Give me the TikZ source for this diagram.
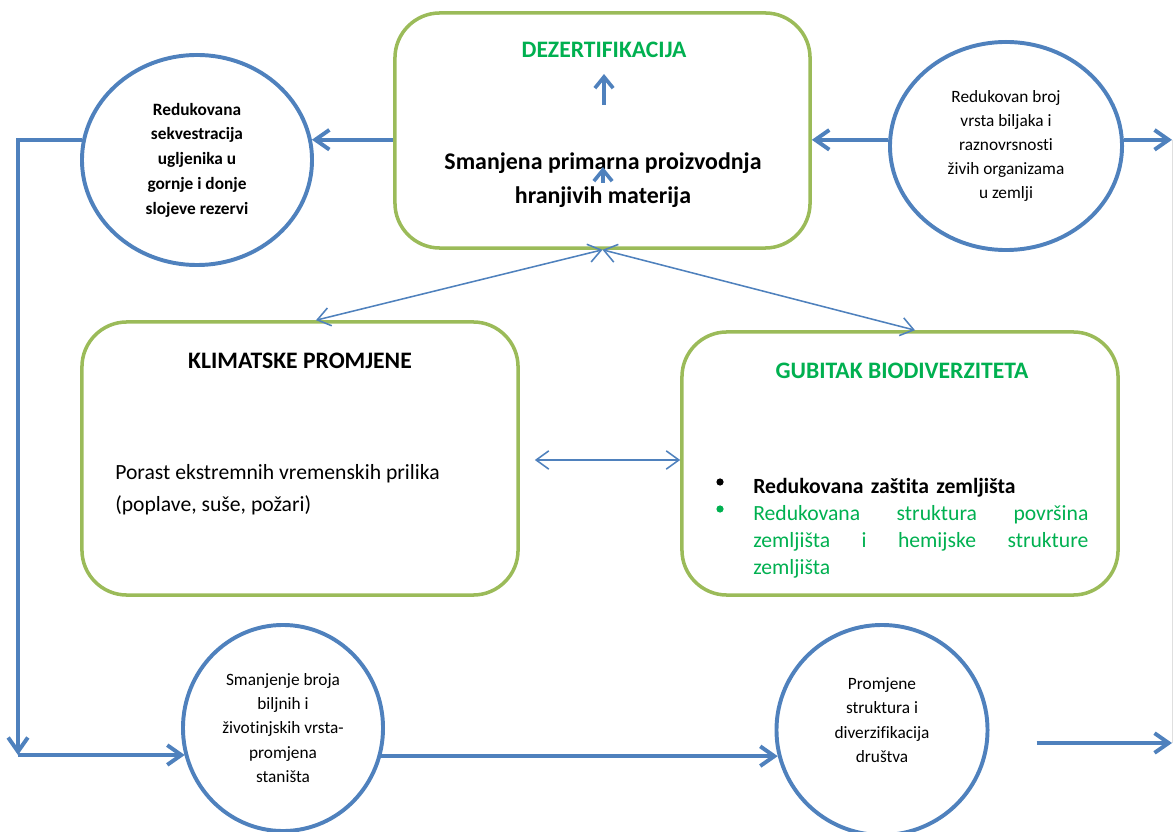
\documentclass[tikz,border=0pt]{standalone}
\usepackage{fontspec}
\setmainfont{Carlito}[Ligatures=NoCommon]
\usetikzlibrary{arrows.meta,positioning,calc,shapes.geometric}
\definecolor{boxgreen}{RGB}{155,187,89}
\definecolor{linkblue}{RGB}{79,129,189}
\definecolor{titlegreen}{RGB}{0,176,80}

\begin{document}
\begin{tikzpicture}[x=0.025cm,y=-0.025cm,
  box/.style={draw=boxgreen,line width=2.5pt,rounded corners=32pt,inner sep=0pt},
  bubble/.style={ellipse,draw=linkblue,line width=2.8pt,inner sep=0pt,align=center,font=\fontsize{12.3}{17.2}\selectfont},
  flow/.style={linkblue,line width=2.8pt,-{Straight Barb[length=10pt,width=14pt]}},
  small/.style={linkblue,line width=2.6pt,-{Straight Barb[length=8pt,width=13pt]}},
  link/.style={linkblue,line width=1.1pt,{Straight Barb[length=9pt,width=13pt]}-{Straight Barb[length=9pt,width=13pt]}},
  title/.style={font=\fontsize{16.8}{20}\selectfont\bfseries},
  body/.style={font=\fontsize{15.4}{19.2}\selectfont,inner sep=0pt},
  dot/.style={circle,fill,inner sep=0pt,minimum size=1.8mm}]
\useasboundingbox (0,0) rectangle (1174,832);

% the three rounded boxes
\node[box,minimum width=103.75mm,minimum height=58.75mm] (desert) at (602.5,130.5) {};
\node[box,minimum width=109mm,minimum height=68.25mm] (clim) at (300,458.5) {};
\node[box,minimum width=109mm,minimum height=65.75mm] (bio) at (900,463.5) {};

\node[title,text=titlegreen,anchor=base] (dez) at (604,58) {DEZERTIFIKACIJA};
\node[font=\fontsize{17}{24.2}\selectfont\bfseries,align=center,inner sep=0pt] (prod) at (603,180)
  {Smanjena primarna proizvodnja\\hranjivih materija};
\draw[small] ($(dez.base)+(0,47)$) -- ++(0,-31);
\draw[small] ($(prod.center)+(0,3)$) -- ++(0,-16);

\node[title,anchor=base] (climhead) at (300,368) {KLIMATSKE PROMJENE};
\node[body,font=\fontsize{15.4}{22.8}\selectfont,align=left,anchor=north west] (climtext) at (115,464)
  {Porast ekstremnih vremenskih prilika\\(poplave, suše, požari)};

\node[title,text=titlegreen,anchor=base] (biohead) at (902,378) {GUBITAK BIODIVERZITETA};
\node[dot] (dot1) at (720,482) {};
\node[dot,fill=titlegreen] (dot2) at (720,509) {};
\node[body,text width=83.75mm,align=left,anchor=north west] (biotext) at (753,478)
  {\textbf{Redukovana zaštita zemljišta}\\
   \color{titlegreen}Redukovana\hfill struktura\hfill površina\\
   zemljišta\hfill i\hfill hemijske\hfill strukture\\
   zemljišta};

% the four bubbles
\node[bubble,font=\fontsize{12.3}{17.6}\selectfont\bfseries,minimum width=57.5mm,minimum height=52.5mm] (carbon) at (197,160)
  {Redukovana\\sekvestracija\\ugljenika u\\gornje i donje\\slojeve rezervi};
\node[bubble,minimum width=58mm,minimum height=52mm] (plants) at (1006,146)
  {Redukovan broj\\vrsta biljaka i\\raznovrsnosti\\živih organizama\\u zemlji};
\node[bubble,minimum width=50mm,minimum height=51.5mm] (habitat) at (283,728)
  {Smanjenje broja\\biljnih i\\životinjskih vrsta-\\promjena\\staništa};
\node[bubble,minimum width=52.75mm,minimum height=52.5mm] (society) at (882,730) {};
\node[align=center,font=\fontsize{12.3}{17.4}\selectfont,inner sep=0pt] (societytext) at (882,720)
  {Promjene\\struktura i\\diverzifikacija\\društva};

\coordinate (turn) at (18,755);
\coordinate (edgetop) at (1172,140);
\coordinate (edgebot) at (1172,743);
\draw[gray!25,line width=0.6pt] (edgetop) -- (edgebot);

% connectors
\draw[flow] (desert.west |- carbon.10) -- (carbon.10);
\draw[flow] (carbon.170) -| (turn);
\draw[flow] (turn) -- (turn -| habitat.196);
\draw[flow] (habitat.-16) -- (habitat.-16 -| society.194);
\draw[flow] ($(society.east |- edgebot)+(47,0)$) -- (edgebot);
\draw[flow] (plants.177) -- (plants.177 -| desert.east);
\draw[flow] (plants.3) -- (plants.3 -| edgetop);

\draw[link] (desert.south) -- ($(clim.north)+(16,0)$);
\draw[link] (desert.south) -- ($(bio.north)+(15,0)$);
\draw[link] ($(clim.east)+(15,1.5)$) -- (bio.west |- 0,460);
\end{tikzpicture}
\end{document}
